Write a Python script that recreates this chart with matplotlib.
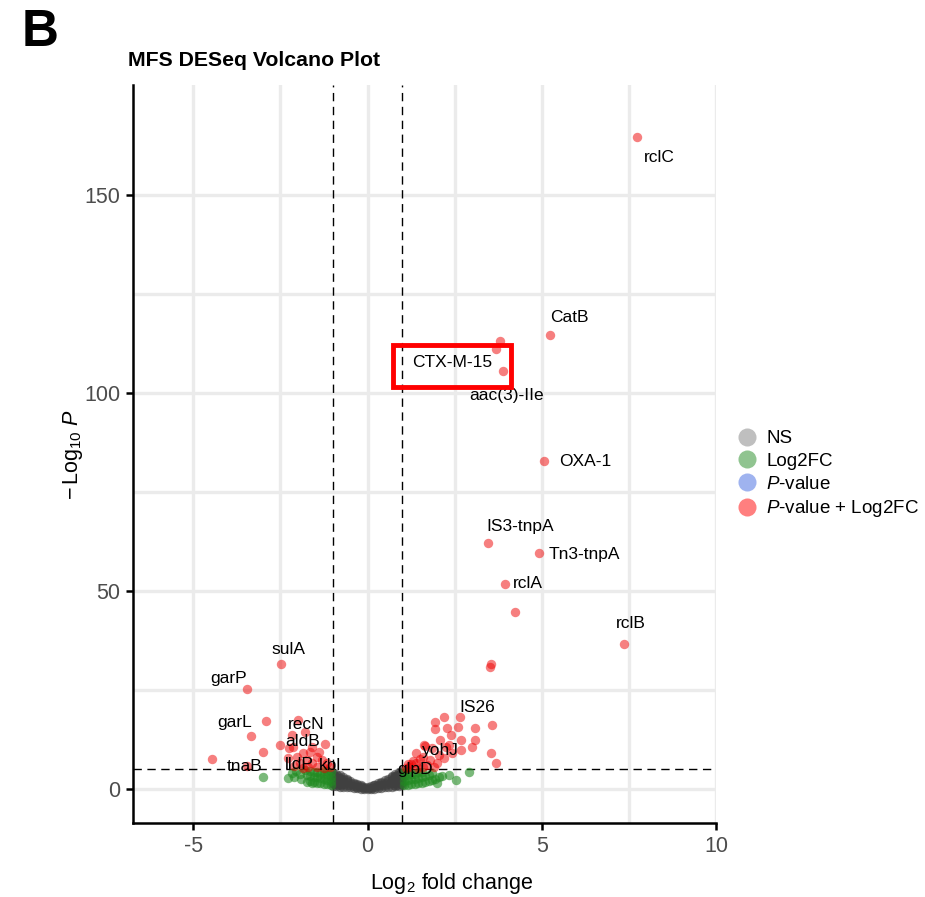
import matplotlib.pyplot as plt
from matplotlib.lines import Line2D
from matplotlib.patches import Rectangle

plt.rcParams['font.family'] = ['Liberation Sans', 'DejaVu Sans']
plt.rcParams['mathtext.fontset'] = 'custom'
plt.rcParams['mathtext.rm'] = 'Liberation Sans'
plt.rcParams['mathtext.it'] = 'Liberation Sans:italic'
plt.rcParams['axes.unicode_minus'] = False

# not significant genes (grey V band around 0)
ns_x = [-1.0, -1.0, -1.0, -1.0, -1.0,
        -0.95, -0.95, -0.95, -0.95,
        -0.9, -0.9, -0.9, -0.9, -0.9,
        -0.85, -0.85, -0.85, -0.85,
        -0.8, -0.8, -0.8, -0.8, -0.8,
        -0.75, -0.75, -0.75,
        -0.7, -0.7, -0.7, -0.7, -0.7,
        -0.6, -0.6, -0.6, -0.6, -0.6,
        -0.5, -0.5, -0.5, -0.5,
        -0.4, -0.4, -0.4, -0.4,
        -0.3, -0.3, -0.3, -0.3,
        -0.2, -0.2, -0.2, -0.2,
        -0.1, -0.1, -0.1,
        0.0, 0.0, 0.0,
        0.1, 0.1, 0.1,
        0.2, 0.2, 0.2, 0.2,
        0.3, 0.3, 0.3, 0.3,
        0.4, 0.4, 0.4, 0.4,
        0.5, 0.5, 0.5, 0.5,
        0.6, 0.6, 0.6, 0.6,
        0.7, 0.7, 0.7, 0.7, 0.7,
        0.75, 0.75, 0.75,
        0.8, 0.8, 0.8, 0.8, 0.8,
        0.85, 0.85, 0.85, 0.85,
        0.9, 0.9, 0.9, 0.9, 0.9,
        0.95, 0.95, 0.95, 0.95,
        1.0, 1.0, 1.0, 1.0, 1.0]
ns_y = [0.8, 1.6, 2.4, 3.2, 4.0,
        1.2, 2.0, 2.8, 3.6,
        0.7, 1.5, 2.3, 3.1, 3.8,
        1.0, 1.8, 2.6, 3.3,
        0.6, 1.3, 2.0, 2.8, 3.4,
        0.9, 1.7, 2.6,
        0.5, 1.2, 1.8, 2.5, 3.0,
        0.5, 1.1, 1.7, 2.2, 2.6,
        0.4, 1.0, 1.5, 2.0,
        0.3, 0.8, 1.3, 1.6,
        0.2, 0.6, 1.0, 1.3,
        0.1, 0.4, 0.8, 1.0,
        0.0, 0.3, 0.6,
        0.0, 0.3, 0.5,
        0.1, 0.3, 0.7,
        0.1, 0.5, 0.9, 1.1,
        0.2, 0.7, 1.1, 1.4,
        0.3, 0.9, 1.4, 1.8,
        0.4, 1.0, 1.6, 2.2,
        0.5, 1.2, 1.9, 2.6,
        0.6, 1.4, 2.2, 2.9, 3.3,
        1.0, 1.8, 2.7,
        0.7, 1.5, 2.4, 3.2, 3.8,
        1.1, 2.0, 2.9, 3.6,
        0.8, 1.7, 2.6, 3.5, 4.3,
        1.2, 2.2, 3.1, 4.0,
        0.9, 1.8, 2.7, 3.6, 4.6]

# fold change only (green)
fc_x = [-1.05, -1.05, -1.05, -1.05, -1.15, -1.15, -1.15, -1.15,
        -1.25, -1.25, -1.25, -1.25, -1.35, -1.35, -1.35,
        -1.45, -1.45, -1.45, -1.55, -1.55, -1.55,
        -1.65, -1.65, -1.65, -1.75, -1.75, -1.8, -1.9, -1.95,
        -2.05, -2.1, -2.18, -2.29, -3.0, -1.6,
        1.05, 1.05, 1.05, 1.05, 1.15, 1.15, 1.15, 1.15,
        1.25, 1.25, 1.25, 1.35, 1.35, 1.35, 1.45, 1.45, 1.45,
        1.55, 1.55, 1.55, 1.65, 1.65, 1.75, 1.75, 1.85, 1.85,
        1.95, 2.05, 2.15, 2.35, 2.55, 2.92, 2.0]
fc_y = [1.0, 2.0, 3.0, 4.2, 1.2, 2.2, 3.4, 4.5,
        1.3, 2.5, 3.6, 4.6, 1.5, 2.7, 3.9,
        1.6, 2.9, 4.2, 1.8, 3.0, 4.4,
        2.0, 3.3, 4.6, 1.8, 3.5, 4.7, 2.4, 3.8,
        4.5, 3.0, 4.0, 2.8, 3.0, 1.5,
        1.0, 2.1, 3.2, 4.3, 1.1, 2.3, 3.5, 4.6,
        1.2, 2.4, 3.7, 1.3, 2.6, 3.9, 1.5, 2.8, 4.2,
        1.6, 3.0, 4.4, 1.8, 3.2, 2.0, 3.5, 2.3, 4.0,
        2.6, 3.0, 3.3, 3.5, 2.3, 4.3, 1.5]

# p-value + fold change (red)
sig_x = [7.74, 5.24, 3.81, 3.70, 3.90, 5.07, 3.47, 4.93, 3.95, 4.24,
         7.36, 3.55, 3.52,
         2.66, 2.20, 1.94, 1.94, 2.29, 2.61, 3.07, 3.58, 2.40, 2.09,
         2.69, 3.07, 2.35, 2.69, 3.00, 3.55, 3.70, 1.66, 1.40, 1.63,
         1.86, 2.06, 2.20, 1.58, 1.78, 2.00, 1.40, 1.20, 1.58, 2.26,
         2.43, 1.10, 1.30, 1.50, 1.25, 1.45, 1.70, 1.90, 1.15,
         -2.49, -3.47, -2.92, -3.35, -3.00, -4.47, -3.45, -2.00, -1.80,
         -2.18, -2.52, -2.26, -1.23, -1.38, -1.60, -2.29, -2.03, -1.86,
         -1.66, -1.46, -1.32, -1.75, -1.95, -1.60, -1.17, -1.46, -1.86,
         -1.72, -1.09, -1.26, -2.10, -2.15]
sig_y = [164.6, 114.6, 113.1, 111.1, 105.5, 82.8, 62.1, 59.6, 51.8, 44.7,
         36.6, 31.6, 30.8,
         18.2, 18.2, 16.9, 15.1, 15.4, 15.6, 15.4, 16.2, 13.6, 12.4,
         12.4, 12.4, 11.1, 9.8, 10.6, 9.1, 6.6, 10.9, 9.1, 11.1,
         10.4, 8.6, 7.8, 8.1, 7.3, 6.6, 6.6, 5.6, 5.6, 10.6,
         9.1, 5.3, 7.0, 7.6, 6.2, 5.4, 6.0, 5.5, 6.4,
         31.6, 25.3, 17.2, 13.4, 9.3, 7.6, 5.8, 17.4, 14.4,
         13.6, 11.1, 10.4, 11.4, 9.3, 10.6, 7.8, 8.1, 9.1,
         9.3, 8.1, 7.3, 7.3, 6.6, 6.6, 6.6, 5.6, 5.3,
         5.6, 5.6, 5.2, 5.8, 10.6]

# gene labels
label_genes = ['rclC', 'CatB', 'CTX-M-15', 'aac(3)-IIe', 'OXA-1', 'IS3-tnpA',
               'Tn3-tnpA', 'rclA', 'rclB', 'sulA', 'garP', 'garL', 'tnaB',
               'recN', 'aldB', 'lldP', 'kbl', 'IS26', 'yohJ', 'glpD']
label_x = [8.37, 5.79, 2.44, 3.98, 6.25, 4.38, 6.22, 4.61, 7.56, -2.26,
           -3.98, -3.81, -3.52, -1.75, -1.86, -1.95, -1.09, 3.15, 2.09, 1.35]
label_y = [159.6, 119.2, 107.8, 99.5, 82.6, 66.2, 59.1, 51.8, 41.9, 35.1,
           27.8, 16.7, 5.6, 16.2, 11.9, 6.1, 5.8, 20.5, 9.6, 4.8]

legend_labels = ['NS', 'Log2FC', r'$\mathit{P}$-value', r'$\mathit{P}$-value + Log2FC']
legend_colors = ['grey', 'forestgreen', 'royalblue', 'red']

fig = plt.figure(figsize=(9.25, 8.97), dpi=100)
ax = fig.add_axes([133 / 925, 1 - 823 / 897, 583 / 925, 738 / 897])

ax.scatter(ns_x, ns_y, s=46, color='#404040', alpha=0.6, linewidths=0, zorder=3)
ax.scatter(fc_x, fc_y, s=46, color='#228B22', alpha=0.6, linewidths=0, zorder=3)
ax.scatter(sig_x, sig_y, s=46, color='#EE0000', alpha=0.5, linewidths=0, zorder=3)

ax.axvline(-1, color='black', ls=(0, (6, 4)), lw=1.0, zorder=2)
ax.axvline(1, color='black', ls=(0, (6, 4)), lw=1.0, zorder=2)
ax.axhline(5, color='black', ls=(0, (6, 4)), lw=1.0, zorder=2)

for g, tx, ty in zip(label_genes, label_x, label_y):
    ax.text(tx, ty, g, ha='center', va='center', fontsize=12.5, color='black', zorder=4)

# highlight box around CTX-M-15
ax.add_patch(Rectangle((0.745, 101.5), 3.385, 10.6, fill=False, edgecolor='red',
                       lw=3.5, zorder=5, clip_on=False))

ax.set_xlim(-6.73, 9.97)
ax.set_ylim(-8.6, 177.8)
ax.set_xticks([-5, 0, 5, 10])
ax.set_yticks([0, 50, 100, 150])
ax.set_xticks([-2.5, 2.5, 7.5], minor=True)
ax.set_yticks([25, 75, 125], minor=True)
ax.grid(which='both', color='#ebebeb', lw=2.4, zorder=0)
ax.set_axisbelow(True)
ax.tick_params(which='major', labelsize=15.5, labelcolor='#4d4d4d', length=5, width=1.8, pad=4)
ax.tick_params(which='minor', length=0)

for s in ['top', 'right']:
    ax.spines[s].set_visible(False)
for s in ['left', 'bottom']:
    ax.spines[s].set_linewidth(1.8)

ax.set_xlabel(r'$\mathrm{Log}_{2}$ fold change', fontsize=15.5)
ax.xaxis.set_label_coords(0.547, -0.065)
ax.set_ylabel(r'$-\,\mathrm{Log}_{10}\ \mathit{P}$', fontsize=15.5)
ax.yaxis.set_label_coords(-0.082, 0.5)

fig.text(128 / 925, 1 - 60 / 897, 'MFS DESeq Volcano Plot', fontsize=15.3, fontweight='bold',
         ha='left', va='center')
fig.text(22 / 925, 1 - 33 / 897, 'B', fontsize=37, fontweight='bold', ha='left', va='center')

handles = [Line2D([], [], marker='o', ls='', markersize=13, markerfacecolor=c,
                  markeredgewidth=0, alpha=0.5) for c in legend_colors]
fig.legend(handles, legend_labels, loc='upper left', bbox_to_anchor=(738 / 925, 1 - 430 / 897),
           frameon=False, fontsize=13.5, handlelength=1.0, handletextpad=0.5,
           labelspacing=0.3, borderpad=0, borderaxespad=0)

fig.savefig('out.png', dpi=100)
